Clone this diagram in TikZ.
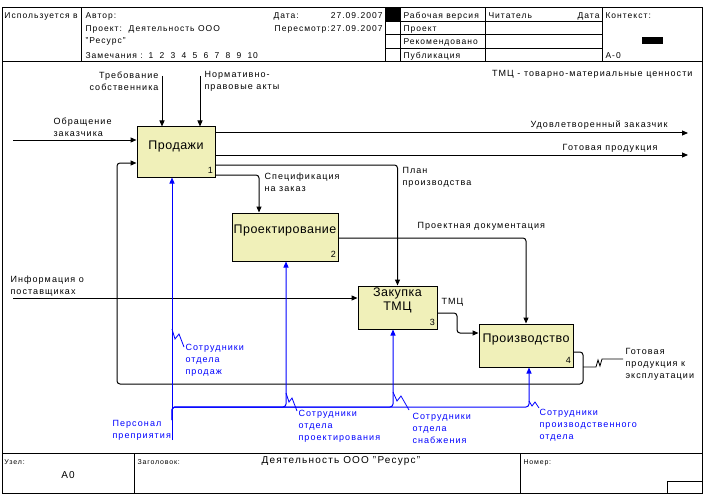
\documentclass[tikz,border=0pt]{standalone}
\usepackage{fontspec}
\setmainfont{Liberation Sans}[LetterSpace=12]
\newfontfamily\boxfont{Liberation Sans}[LetterSpace=4]
\usetikzlibrary{arrows.meta}
\definecolor{boxfill}{RGB}{240,240,185}
\definecolor{idefblue}{RGB}{0,0,255}
\begin{document}
\begin{tikzpicture}[x=1pt,y=-1pt,line width=1pt]
        % Define styles for nodes and edges
        \tikzstyle{fn}=[rectangle, draw=black, fill=boxfill, inner sep=0pt]
        \tikzstyle{fname}=[inner sep=0pt, align=center, font=\boxfont\fontsize{12.5}{14}\selectfont]
        \tikzstyle{num}=[inner sep=0pt, anchor=base east, font=\fontsize{9}{10}\selectfont]
        \tikzstyle{lbl}=[inner sep=0pt, anchor=west, align=left, font=\fontsize{9}{12}\selectfont]
        \tikzstyle{mlbl}=[lbl, text=idefblue]
        \tikzstyle{hdr}=[inner sep=0pt, anchor=base west, font=\fontsize{8.5}{10}\selectfont]
        \tikzstyle{ftr}=[hdr, font=\fontsize{7}{8}\selectfont]
        \tikzstyle{flow}=[draw=black, rounded corners=3pt, -{Triangle[length=6pt,width=5pt]}]
        \tikzstyle{mech}=[flow, draw=idefblue]
        \tikzstyle{squig}=[draw=idefblue, line width=0.8pt]

        \useasboundingbox (0,0) rectangle (705,495);

        % Frame, header and footer
        \draw (2,8) rectangle (702,493);
        \draw (2,62) -- (702,62);
        \draw (2,453) -- (702,453);
        \foreach \x in {81,385,400,485,602} \draw (\x,8) -- (\x,62);
        \foreach \y in {21.5,35,48.5} \draw (385,\y) -- (602,\y);
        \fill (385,8) rectangle (400,21.5);
        \fill (642,37) rectangle (663,44);
        \draw (134,453) -- (134,493);
        \draw (520,453) -- (520,493);
        \draw (667,481) rectangle (702,493);

        \node[hdr] (used) at (4,19) {Используется в};
        \node[hdr] (author) at (85,19) {Автор:};
        \node[hdr] (project) at (85,32) {Проект:\ \ Деятельность ООО};
        \node[hdr] (projectb) at (85,44) {"Ресурс"};
        \node[hdr] (notes) at (85,59) {Замечания :};
        \foreach \n [count=\i] in {1,...,10}
          \node[hdr] (note\n) at (148+11*\i-11,59) {\n};
        \node[hdr] (date) at (273,19) {Дата:};
        \node[hdr, anchor=base east] (dateval) at (383,19) {27.09.2007};
        \node[hdr, anchor=base east] (rev) at (383,32) {Пересмотр:27.09.2007};
        \node[hdr] (work) at (403,19) {Рабочая версия};
        \node[hdr] (draft) at (403,32) {Проект};
        \node[hdr] (recom) at (403,45) {Рекомендовано};
        \node[hdr] (publ) at (403,59) {Публикация};
        \node[hdr] (reader) at (488,19) {Читатель};
        \node[hdr, anchor=base east] (rdate) at (600,19) {Дата};
        \node[hdr] (context) at (605,19) {Контекст:};
        \node[hdr] (ctxnode) at (605,59) {А-0};

        \node[ftr] (nodecap) at (4,464) {Узел:};
        \node[inner sep=0pt, font=\fontsize{10}{12}\selectfont] (nodeval) at (68,475) {А0};
        \node[ftr] (titlecap) at (137,464) {Заголовок:};
        \node[inner sep=0pt, font=\fontsize{10}{12}\selectfont] (title) at (341,461) {Деятельность ООО "Ресурс"};
        \node[ftr] (numcap) at (523,464) {Номер:};

        \node[lbl, anchor=east] (legend) at (693,74) {ТМЦ - товарно-материальные ценности};

        % Define function boxes
        \node[fn, minimum width=78, minimum height=50] (prod) at (176,152) {};
        \node[fn, minimum width=106, minimum height=48] (design) at (285,237) {};
        \node[fn, minimum width=79, minimum height=43] (buy) at (397.5,307.5) {};
        \node[fn, minimum width=94, minimum height=43] (make) at (526,345.5) {};

        \node[fname] (prodtxt) at ([yshift=6]prod.center) {Продажи};
        \node[fname] (designtxt) at ([yshift=7]design.center) {Проектирование};
        \node[fname] (buytxt) at ([yshift=7.5]buy.center) {Закупка\\ТМЦ};
        \node[fname] (maketxt) at ([yshift=6.5]make.center) {Производство};

        \node[num] (prodnum) at ([shift={(-2,-4)}]prod.south east) {1};
        \node[num] (designnum) at ([shift={(-2,-4)}]design.south east) {2};
        \node[num] (buynum) at ([shift={(-2,-4)}]buy.south east) {3};
        \node[num] (makenum) at ([shift={(-2,-4)}]make.south east) {4};

        % Inputs
        \coordinate (custin) at (13,140);
        \draw[flow] (custin) -- (custin -| prod.west);
        \node[lbl] (custlbl) at (53,127.5) {Обращение\\заказчика};
        \coordinate (supin) at (13,298);
        \draw[flow] (supin) -- (supin -| buy.west);
        \node[lbl] (suplbl) at (10,286) {Информация о\\поставщиках};

        % Controls
        \coordinate (ownin) at (162,76);
        \draw[flow] (ownin) -- (ownin |- prod.north);
        \node[lbl, anchor=east, align=right] (ownlbl) at (159,81) {Требование\\собственника};
        \coordinate (lawin) at (200,76);
        \draw[flow] (lawin) -- (lawin |- prod.north);
        \node[lbl] (lawlbl) at (204,81) {Нормативно-\\правовые акты};

        % Outputs
        \coordinate (satout) at (688,133);
        \draw[flow] (satout -| prod.east) -- (satout);
        \node[lbl, anchor=east] (satlbl) at (668,125) {Удовлетворенный заказчик};
        \coordinate (goodsout) at (688,155);
        \draw[flow] (goodsout -| prod.east) -- (goodsout);
        \node[lbl, anchor=east] (goodslbl) at (658,148) {Готовая продукция};

        \draw[flow] (prod.east |- 0,165) -| (buy.north);
        \node[lbl] (planlbl) at (402,177) {План\\производства};
        \draw[flow] (prod.east |- 0,175) -| (design.north -| 259,0);
        \node[lbl] (speclbl) at (264,182) {Спецификация\\на заказ};
        \draw[flow] (design.east |- 0,238) -| (make.north);
        \node[lbl] (doclbl) at (417,226) {Проектная документация};
        \draw[flow] (buy.east |- 0,313) -- (457,313) -- (457,333) -- (make.west |- 0,333);
        \node[lbl] (tmclbl) at (441,302) {ТМЦ};

        % Feedback to sales
        \draw[flow] (make.east |- 0,352) -- (583,352) -- (583,384) -- (117,384) -- (117,163) -- (prod.west |- 0,163);
        \coordinate (fbtap) at (583,367);
        \draw[line width=0.8pt] (fbtap) -- (596,367) -- (598,360) -- (600,366) -- (602,359) -- (623,359);
        \node[lbl] (explbl) at (625,364.5) {Готовая\\продукция к\\эксплуатации};

        % Mechanisms
        \coordinate (staff) at (172,440);
        \draw[mech] (staff) -- (staff |- prod.south);
        \node[mlbl] (stafflbl) at (112,430.5) {Персонал\\преприятия};
        \coordinate (fork) at (172,420);
        \draw[mech] (fork) |- (286,407) -- (design.south -| 286,0);
        \draw[mech] (fork) |- (393,407) -- (buy.south -| 393,0);
        \draw[mech] (fork) |- (529,407) -- (make.south -| 529,0);

        \node[mlbl] (saleslbl) at (185,360) {Сотрудники\\отдела\\продаж};
        \draw[squig] (172,329) -- (175,339) -- (179,334) -- (184,347);
        \node[mlbl] (designlbl) at (298,426) {Сотрудники\\отдела\\проектирования};
        \draw[squig] (286,393) -- (289,402) -- (292,398) -- (297,411);
        \node[mlbl] (buylbl) at (412,428) {Сотрудники\\отдела\\снабжения};
        \draw[squig] (393,392) -- (397,401) -- (401,396) -- (409,410);
        \node[mlbl] (makelbl) at (539,425) {Сотрудники\\производственного\\отдела};
        \draw[squig] (529,401) -- (532,406) -- (535,402) -- (539,408);

\end{tikzpicture}
\end{document}
